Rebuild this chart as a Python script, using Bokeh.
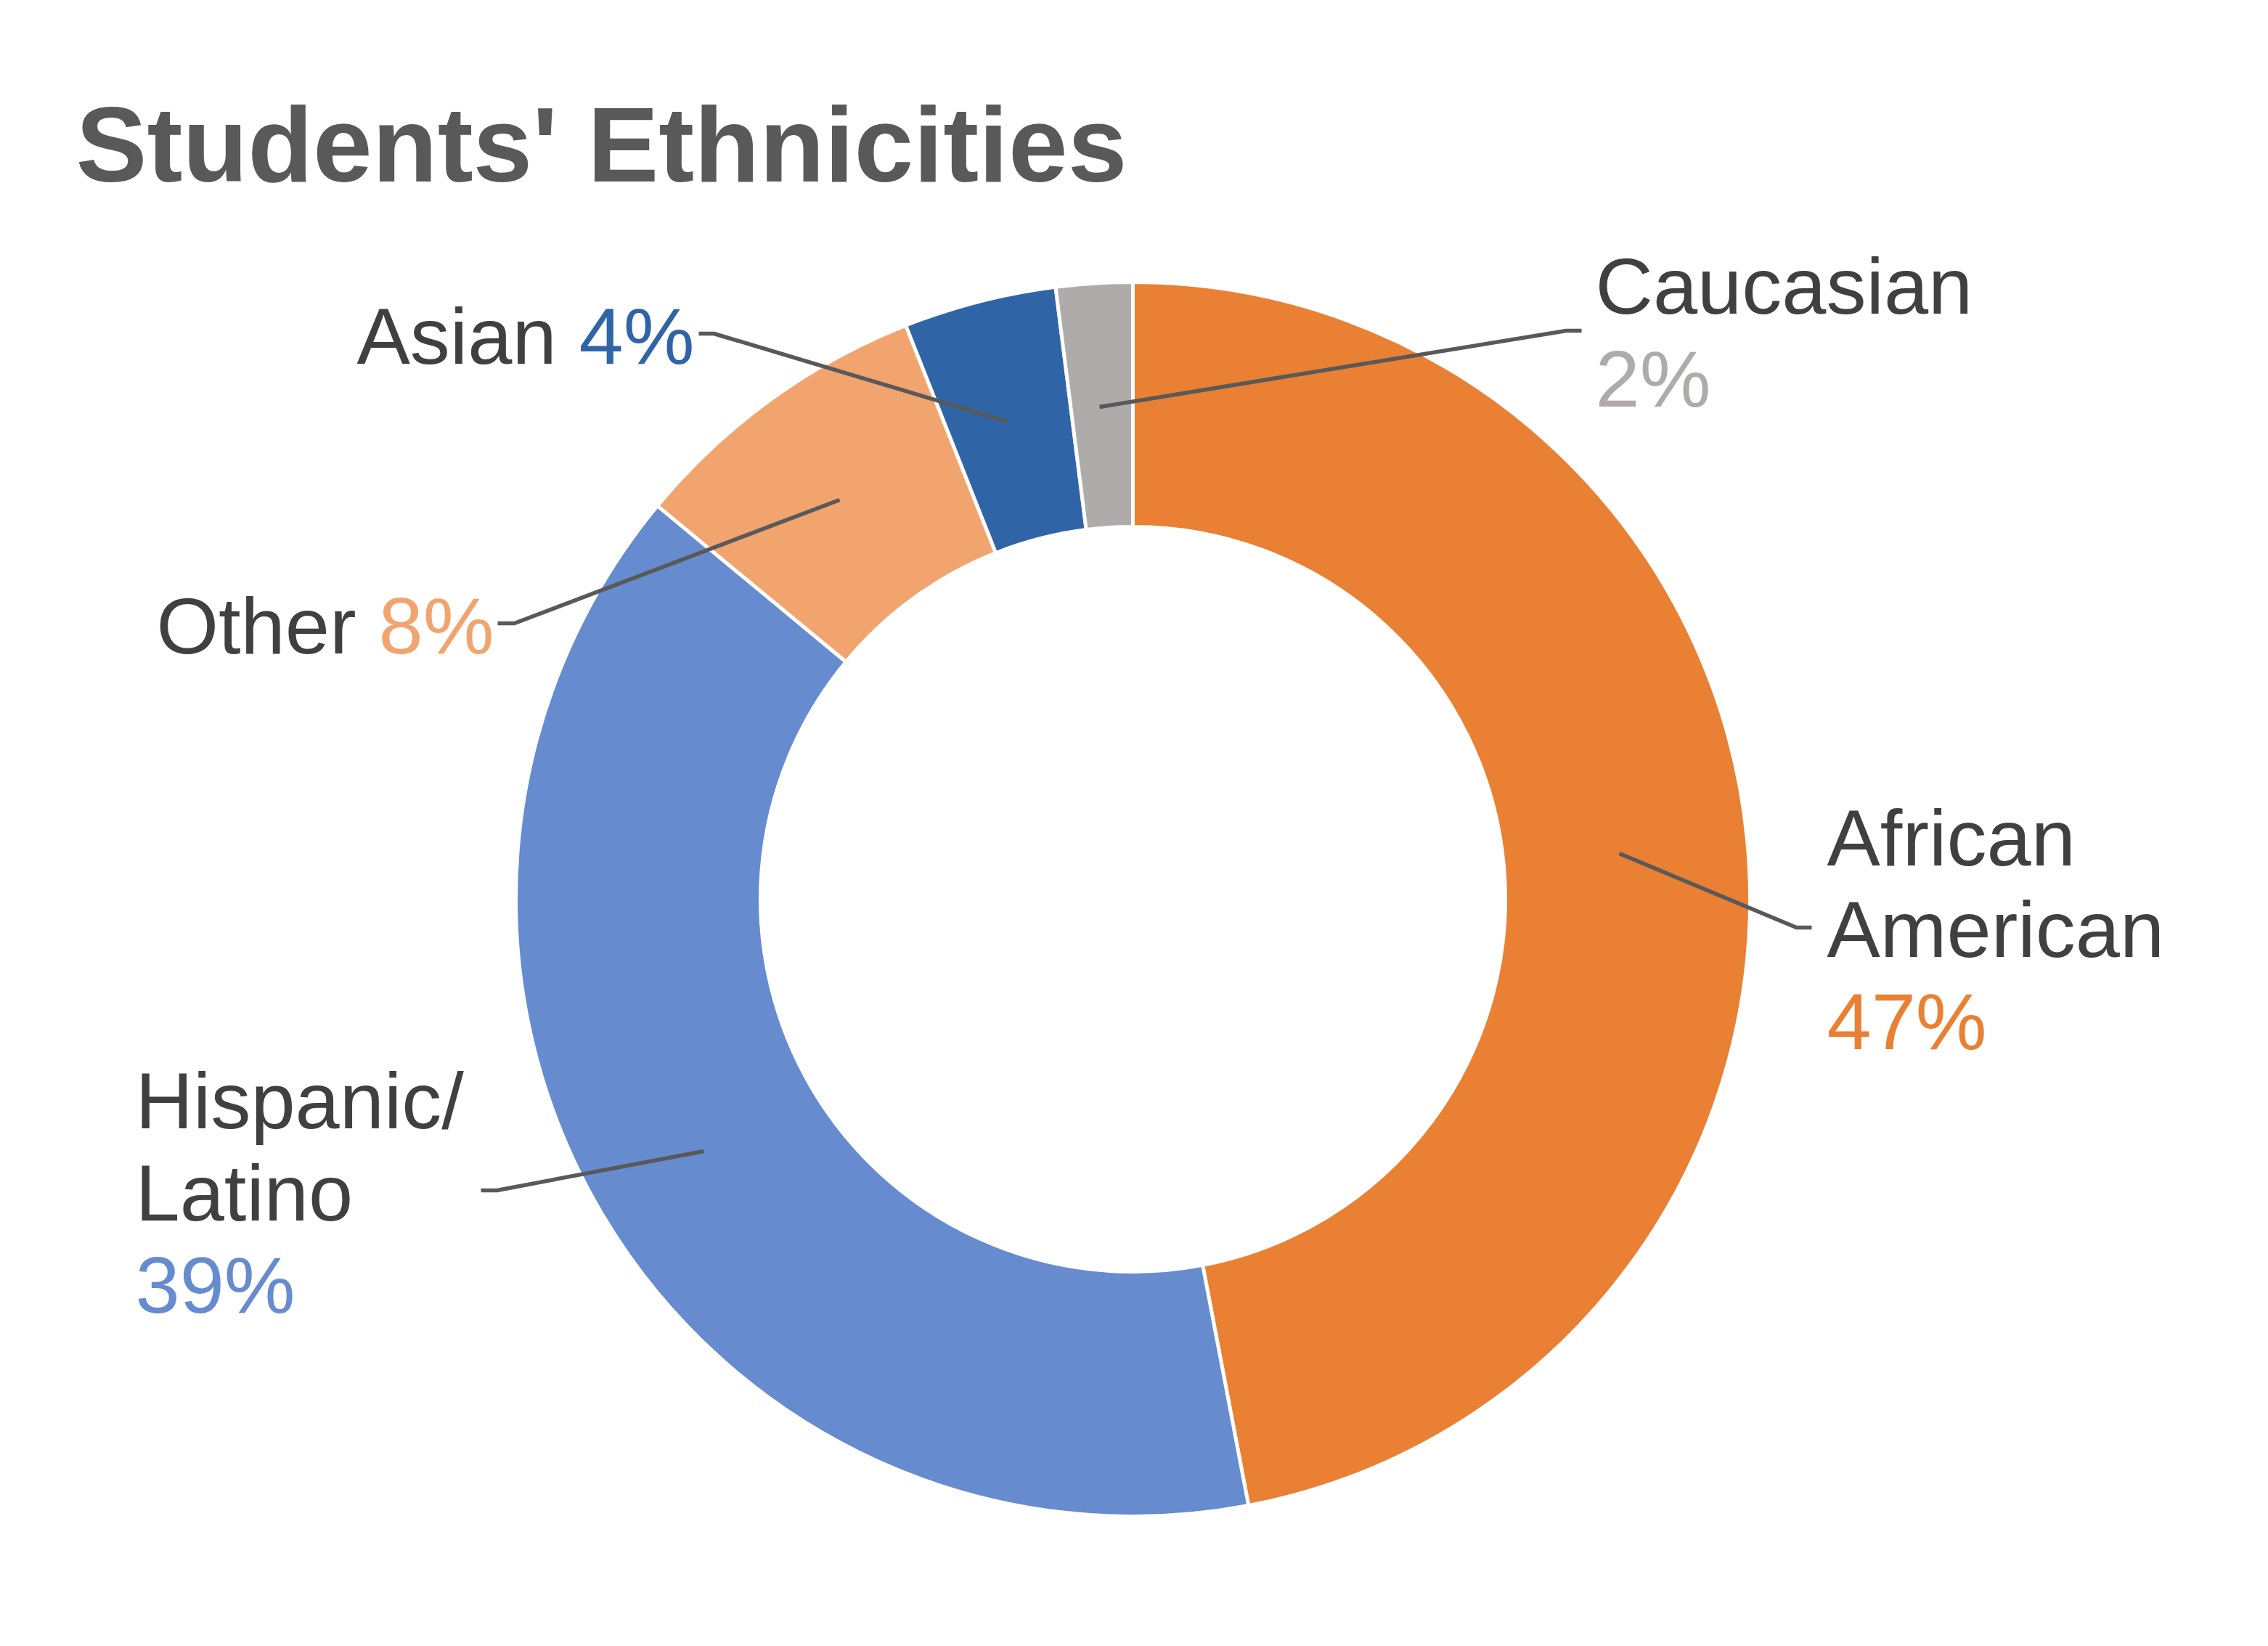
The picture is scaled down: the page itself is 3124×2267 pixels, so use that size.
import numpy as np
from bokeh.plotting import figure
from bokeh.models import Range1d
from bokeh.core.properties import value
from bokeh.embed import file_html
from bokeh.resources import INLINE

# ---- data ----
categories = ["African American", "Hispanic/Latino", "Other", "Asian", "Caucasian"]
shares = [47, 39, 8, 4, 2]
colors = ["#E98033", "#668CCF", "#F2A46F", "#2F65A7", "#AFABAB"]
pct_labels = ["47%", "39%", "8%", "4%", "2%"]
title_text = "Students' Ethnicities"

# ---- layout (reference pixel coordinates, y measured from top) ----
REF_W, REF_H = 3124, 2267
W, H = REF_W - 16, REF_H - 16
def Y(ry):
    return 2259 - ry

CX, CY = 1568, 1238
R_OUT, R_IN = 850, 513

p = figure(width=W, height=H, x_range=Range1d(8, 8 + W), y_range=Range1d(8, 8 + H),
           output_backend="svg", toolbar_location=None, min_border=0,
           x_axis_type=None, y_axis_type=None)
p.grid.visible = False
p.outline_line_color = None
p.background_fill_color = "white"
p.border_fill_color = "white"

total = float(sum(shares))
cum = np.concatenate([[0.0], np.cumsum(shares)]) / total
start = np.pi / 2 - 2 * np.pi * cum[:-1]
end = np.pi / 2 - 2 * np.pi * cum[1:]

p.annular_wedge(x=CX, y=Y(CY), inner_radius=R_IN, outer_radius=R_OUT,
                start_angle=list(start), end_angle=list(end), direction="clock",
                fill_color=colors, line_color="white", line_width=5)

# leader lines: (start inside slice, bend, end near label)
leaders = {
    "African American": [(2238, 1175), (2482, 1277), (2503, 1277)],
    "Hispanic/Latino": [(977, 1585), (692, 1639), (670, 1639)],
    "Other": [(1164, 688), (716, 858), (693, 858)],
    "Asian": [(1395, 580), (991, 459), (970, 459)],
    "Caucasian": [(1522, 560), (2165, 455), (2186, 455)],
}
xs = [[pt[0] for pt in leaders[c]] for c in categories]
ys = [[Y(pt[1]) for pt in leaders[c]] for c in categories]
p.multi_line(xs=xs, ys=ys, line_color="#595959", line_width=5.5)

FONT = value("Liberation Sans")
DARK = "#404040"
DX = 7

def txt(x, y, s, color, size=110, style="normal"):
    yy = y - 0.35 * size
    p.text(x=[x + DX], y=[Y(yy)], text=[s], text_font=FONT, text_font_size=f"{size}px",
           text_color=color, text_align="left", text_baseline="alphabetic",
           text_font_style=style)

# title
txt(105, 250, title_text, "#595959", size=147, style="bold")

# African American (multi-line)
txt(2517, 1191, "African", DARK)
txt(2517, 1317, "American", DARK)
txt(2517, 1444, pct_labels[0], colors[0])

# Hispanic/Latino
txt(187, 1553, "Hispanic/", DARK)
txt(187, 1680, "Latino", DARK)
txt(187, 1807, pct_labels[1], colors[1])

# Other
txt(216, 899, "Other", DARK)
txt(522, 899, pct_labels[2], colors[2])

# Asian
txt(492, 500, "Asian", DARK)
txt(798, 500, pct_labels[3], colors[3])

# Caucasian
txt(2198, 431, "Caucasian", DARK)
txt(2198, 559, pct_labels[4], colors[4])

open("out.html", "w").write(file_html(p, INLINE))
